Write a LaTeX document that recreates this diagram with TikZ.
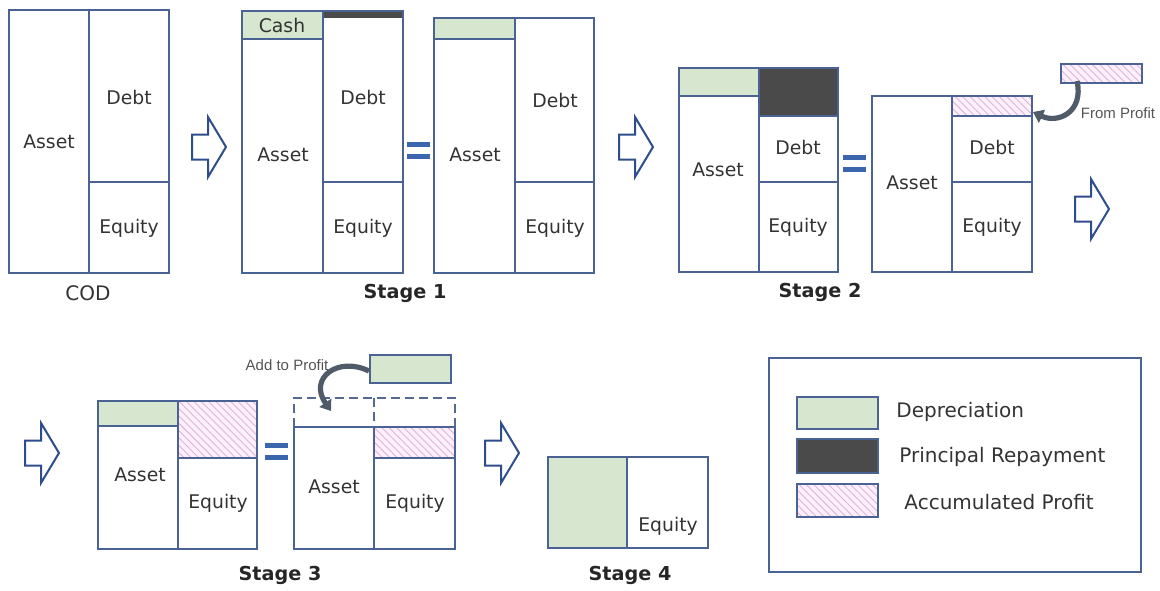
\documentclass[tikz,border=0pt]{standalone}
\usepackage{fontspec}
\setmainfont{DejaVu Sans}
\newfontfamily\smallsans{Liberation Sans}
\usetikzlibrary{patterns.meta,arrows.meta}

\definecolor{boxline}{HTML}{4B6394}
\definecolor{flowblue}{HTML}{2E4D8C}
\definecolor{eqblue}{HTML}{3B66AE}
\definecolor{depgreen}{HTML}{D7E7CF}
\definecolor{repaygray}{HTML}{4A4A4A}
\definecolor{profitbg}{HTML}{FCF0FA}
\definecolor{profitline}{HTML}{E2B2DF}
\definecolor{curvegray}{HTML}{4F5B68}
\definecolor{labeltext}{HTML}{333333}
\definecolor{notetext}{HTML}{555555}

\tikzset{
  cell/.style={draw=boxline, line width=0.8pt},
  dashcell/.style={draw=boxline!80!gray, line width=0.8pt, dash pattern=on 4.5pt off 2.5pt},
  depfill/.style={fill=depgreen},
  repayfill/.style={fill=repaygray},
  profitfill/.style={preaction={fill=profitbg},
    pattern={Lines[angle=-45,distance=2.6pt,line width=0.45pt]}, pattern color=profitline},
  lbl/.style={font=\fontsize{9.4}{11}\selectfont, text=labeltext, inner sep=0pt},
  stagelbl/.style={font=\fontsize{9.6}{11}\selectfont\bfseries, text=black!85, inner sep=0pt},
  notelbl/.style={font=\smallsans\fontsize{7.5}{9}\selectfont, text=notetext, inner sep=0pt},
  legendlbl/.style={font=\fontsize{10}{12}\selectfont, text=labeltext, inner sep=0pt, anchor=west},
  flowline/.style={draw=flowblue, line width=1pt, fill=white, line join=miter},
  curvearrow/.style={draw=curvegray, line width=2.6pt,
    -{Triangle[length=5pt,width=7pt]}},
  pics/flowarrow/.style={code={
    \draw[flowline] (0,-12.5) -- (16,-12.5) -- (16,-30) -- (34,0)
      -- (16,30) -- (16,12.5) -- (0,12.5) -- cycle;}},
  pics/equalsign/.style={code={
    \fill[eqblue] (0,0) rectangle (23,5);
    \fill[eqblue] (0,12) rectangle (23,17);}}
}

\begin{document}
\begin{tikzpicture}[x=0.5pt,y=-0.5pt]
\useasboundingbox (0,0) rectangle (1160,590);

% ---------- COD ----------
\draw[cell] (9,10) rectangle (169,273);
\draw[cell] (89,10) -- (89,273);
\draw[cell] (89,182) -- (169,182);
\node[lbl] (codasset) at (49,142) {Asset};
\node[lbl] (coddebt) at (129,97) {Debt};
\node[lbl] (codequity) at (129,228) {Equity};
\node[font=\fontsize{10}{12}\selectfont, text=labeltext, inner sep=0pt] (codtitle) at (88,293) {COD};

\pic at (192,147) {flowarrow};

% ---------- Stage 1 ----------
\path[depfill] (242,11) rectangle (323,39);
\path[repayfill] (323,11) rectangle (403,18);
\draw[cell] (242,11) rectangle (403,273);
\draw[cell] (323,11) -- (323,273);
\draw[cell] (242,39) -- (323,39);
\draw[cell] (323,182) -- (403,182);
\node[lbl] (s1cash) at (282,25) {Cash};
\node[lbl] (s1asset) at (283,155) {Asset};
\node[lbl] (s1debt) at (363,97) {Debt};
\node[lbl] (s1equity) at (363,228) {Equity};

\pic at (407,142) {equalsign};

\path[depfill] (434,18) rectangle (515,39);
\draw[cell] (434,18) rectangle (594,273);
\draw[cell] (515,18) -- (515,273);
\draw[cell] (434,39) -- (515,39);
\draw[cell] (515,182) -- (594,182);
\node[lbl] (s1basset) at (475,155) {Asset};
\node[lbl] (s1bdebt) at (555,100) {Debt};
\node[lbl] (s1bequity) at (555,228) {Equity};

\node[stagelbl] (stage1) at (405,293) {Stage 1};

\pic at (619,147) {flowarrow};

% ---------- Stage 2 ----------
\path[depfill] (679,68) rectangle (759,96);
\path[repayfill] (759,68) rectangle (838,116);
\draw[cell] (679,68) rectangle (838,272);
\draw[cell] (759,68) -- (759,272);
\draw[cell] (679,96) -- (759,96);
\draw[cell] (759,116) -- (838,116);
\draw[cell] (759,182) -- (838,182);
\node[lbl] (s2asset) at (718,170) {Asset};
\node[lbl] (s2debt) at (798,147) {Debt};
\node[lbl] (s2equity) at (798,227) {Equity};

\pic at (843,155) {equalsign};

\path[profitfill] (952,96) rectangle (1032,116);
\draw[cell] (872,96) rectangle (1032,272);
\draw[cell] (952,96) -- (952,272);
\draw[cell] (952,116) -- (1032,116);
\draw[cell] (952,182) -- (1032,182);
\node[lbl] (s2basset) at (912,183) {Asset};
\node[lbl] (s2bdebt) at (992,147) {Debt};
\node[lbl] (s2bequity) at (992,227) {Equity};

% profit brought in from outside
\path[profitfill] (1061,64) rectangle (1142,83);
\draw[cell] (1061,64) rectangle (1142,83);
\coordinate (fromsrc) at (1077,81);
\coordinate (fromdst) at (1033,112);
\draw[curvearrow] (fromsrc) .. controls (1084,112) and (1058,124) .. (fromdst);
\node[notelbl] (fromprofit) at (1118,113) {From Profit};

\node[stagelbl] (stage2) at (820,292) {Stage 2};

\pic at (1075,209) {flowarrow};

% ---------- Stage 3 ----------
\pic at (25,453) {flowarrow};

\path[depfill] (98,401) rectangle (178,426);
\path[profitfill] (178,401) rectangle (257,458);
\draw[cell] (98,401) rectangle (257,549);
\draw[cell] (178,401) -- (178,549);
\draw[cell] (98,426) -- (178,426);
\draw[cell] (178,458) -- (257,458);
\node[lbl] (s3asset) at (140,475) {Asset};
\node[lbl] (s3equity) at (218,503) {Equity};

\pic at (265,443) {equalsign};

\path[profitfill] (374,427) rectangle (455,458);
\draw[dashcell] (294,427) -- (294,398) -- (455,398) -- (455,427);
\draw[dashcell] (374,398) -- (374,427);
\draw[cell] (294,427) rectangle (455,549);
\draw[cell] (374,427) -- (374,549);
\draw[cell] (374,458) -- (455,458);
\node[lbl] (s3basset) at (334,487) {Asset};
\node[lbl] (s3bequity) at (415,503) {Equity};

% depreciation moved out to profit
\path[depfill] (370,355) rectangle (451,383);
\draw[cell] (370,355) rectangle (451,383);
\coordinate (addsrc) at (369,371);
\coordinate (adddst) at (331,411);
\draw[curvearrow] (addsrc) .. controls (338,356) and (308,378) .. (adddst);
\node[notelbl] (addprofit) at (287,365) {Add to Profit};

\node[stagelbl] (stage3) at (280,575) {Stage 3};

\pic at (485,453) {flowarrow};

% ---------- Stage 4 ----------
\path[depfill] (548,457) rectangle (627,548);
\draw[cell] (548,457) rectangle (708,548);
\draw[cell] (627,457) -- (627,548);
\node[lbl] (s4equity) at (668,526) {Equity};
\node[stagelbl] (stage4) at (630,575) {Stage 4};

% ---------- Legend ----------
\draw[cell] (769,358) rectangle (1141,572);
\path[depfill] (797,397) rectangle (878,429);
\draw[cell] (797,397) rectangle (878,429);
\path[repayfill] (797,439) rectangle (878,473);
\draw[cell] (797,439) rectangle (878,473);
\path[profitfill] (797,484) rectangle (878,517);
\draw[cell] (797,484) rectangle (878,517);
\node[legendlbl] (legdep) at (896,412) {Depreciation};
\node[legendlbl] (legrepay) at (899,457) {Principal Repayment};
\node[legendlbl] (legprofit) at (904,502) {Accumulated Profit};

\end{tikzpicture}
\end{document}
